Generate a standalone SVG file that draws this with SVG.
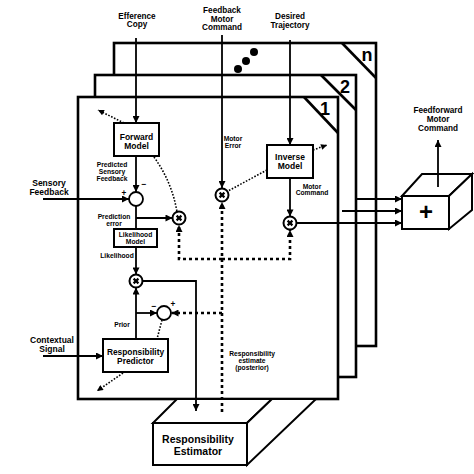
<svg xmlns="http://www.w3.org/2000/svg" width="474" height="474" viewBox="0 0 474 474">
<style>
text{font-family:"Liberation Sans",Arial,sans-serif;font-weight:bold;fill:#000;text-anchor:middle}
.frame{fill:#fff;stroke:#000;stroke-width:2.6}
.box{fill:#fff;stroke:#000;stroke-width:2}
.ln{fill:none;stroke:#000;stroke-width:1.8}
.dash{fill:none;stroke:#000;stroke-width:2.6;stroke-dasharray:3 3}
.dot{fill:none;stroke:#000;stroke-width:1.6;stroke-dasharray:1.6 1.6}
.t8{font-size:8.2px}
.t85{font-size:8.5px}
.t7{font-size:6.7px}
.big{font-size:18px}
.mult circle{fill:#fff;stroke:#000;stroke-width:2}
.mult path{stroke:#000;stroke-width:2.2;fill:none}
</style>
<defs>
<marker id="ah" viewBox="0 0 10 10" refX="10" refY="5" markerWidth="8" markerHeight="7" markerUnits="userSpaceOnUse" orient="auto"><path d="M0,0 L10,5 L0,10 z" fill="#000"/></marker>
<marker id="ahs" viewBox="0 0 10 10" refX="10" refY="5" markerWidth="7" markerHeight="6" markerUnits="userSpaceOnUse" orient="auto"><path d="M0,0 L10,5 L0,10 z" fill="#000"/></marker>
</defs>

<g id="frame-n">
<rect class="frame" x="114" y="43" width="262" height="303"/>
<path class="ln" style="stroke-width:2.6" d="M342,43 L376,78"/>
<text class="big" x="367" y="61">n</text>
<circle cx="238" cy="69" r="4"/><circle cx="246" cy="61" r="4"/><circle cx="254" cy="52" r="4"/>
</g>
<g id="frame-2">
<rect class="frame" x="95" y="75" width="261" height="302"/>
<path class="ln" style="stroke-width:2.6" d="M321,75 L356,110"/>
<text class="big" x="345" y="92.5">2</text>
</g>
<g id="frame-1">
<rect class="frame" x="78" y="97" width="260" height="302"/>
<path class="ln" style="stroke-width:2.6" d="M304,97 L338,133"/>
<text class="big" x="325" y="114.5">1</text>
</g>

<g id="responsibility-estimator">
<polygon class="box" points="153,423 177,399 272,399 247,423"/>
<polygon class="box" points="247,423 272,399 316,399 247,465"/>
<rect class="box" x="153" y="423" width="94" height="42"/>
<text style="font-size:10.5px" x="198" y="443">Responsibility</text>
<text style="font-size:10.5px" x="198" y="455">Estimator</text>
</g>

<g id="feedforward-sum">
<polygon class="box" points="402,196 422,174 472,174 449,196"/>
<polygon class="box" points="449,196 472,174 472,210 449,229"/>
<rect class="box" x="402" y="196" width="47" height="33"/>
<text style="font-size:24px" x="426" y="220">+</text>
</g>

<g id="connectors">
<path class="ln" d="M136,38 V123" marker-end="url(#ah)"/>
<path class="ln" d="M222,35 V188" marker-end="url(#ah)"/>
<path class="ln" d="M290,40 V145" marker-end="url(#ah)"/>
<path class="ln" d="M136,156 V192" marker-end="url(#ah)"/>
<path class="ln" d="M43,199 H129" marker-end="url(#ah)"/>
<path class="ln" d="M136,206 V229"/>
<path class="ln" d="M136,218 H172.5" marker-end="url(#ah)"/>
<path class="ln" d="M136,247 V274.5" marker-end="url(#ah)"/>
<path class="ln" d="M142.5,281 H196 V411" marker-end="url(#ah)"/>
<path class="ln" d="M136,339 V287.5" marker-end="url(#ah)"/>
<path class="ln" d="M136,313 H157" marker-end="url(#ah)"/>
<path class="ln" d="M43,356 H103" marker-end="url(#ah)"/>
<path class="ln" d="M290,178 V216.5" marker-end="url(#ah)"/>
<path class="ln" d="M296.5,223 H402" marker-end="url(#ah)"/>
<path class="ln" d="M342,211 H402" marker-end="url(#ah)"/>
<path class="ln" d="M357,199 H402" marker-end="url(#ah)"/>
<path class="ln" d="M438,187 V140" marker-end="url(#ah)"/>
<path class="dash" d="M222,412 V202" marker-end="url(#ah)"/>
<path class="dash" d="M222,259 H179 V225" marker-end="url(#ah)"/>
<path class="dash" d="M222,259 H290 V230" marker-end="url(#ah)"/>
<path class="dash" d="M222,313 H171.5" marker-end="url(#ah)"/>
<path class="dot" d="M154,157 Q172,182 177,212"/>
<path class="dot" d="M267,170 L228,191"/>
<path class="dot" d="M162,320 L157,339"/>
<path class="dot" d="M124,123 L98,110" marker-end="url(#ahs)"/>
<path class="dot" d="M313,150 L327,145" marker-end="url(#ahs)"/>
<path class="dot" d="M123,373 L97,391" marker-end="url(#ahs)"/>
</g>

<g id="forward-model">
<rect class="box" x="114" y="123" width="45" height="33"/>
<text class="t85" x="136.5" y="140">Forward</text>
<text class="t85" x="136.5" y="149">Model</text>
</g>
<g id="inverse-model">
<rect class="box" x="267" y="145" width="46" height="33"/>
<text class="t85" x="290" y="160">Inverse</text>
<text class="t85" x="290" y="169">Model</text>
</g>
<g id="likelihood-model">
<rect class="box" x="114" y="229" width="43" height="18"/>
<text class="t7" x="135.5" y="236.5">Likelihood</text>
<text class="t7" x="135.5" y="243.5">Model</text>
</g>
<g id="responsibility-predictor">
<rect class="box" x="103" y="339" width="65" height="33"/>
<text style="font-size:8.4px" x="135.5" y="355">Responsibility</text>
<text style="font-size:8.4px" x="135.5" y="363.5">Predictor</text>
</g>
<g id="sum-prediction">
<circle cx="136" cy="199" r="7" fill="#fff" stroke="#000" stroke-width="1.8"/>
<text class="t85" x="144" y="187">−</text>
<text class="t8" x="124" y="195.5">+</text>
</g>
<g id="sum-prior">
<circle cx="164" cy="313" r="7" fill="#fff" stroke="#000" stroke-width="1.8"/>
<text class="t85" x="154" y="309">−</text>
<text class="t8" x="173" y="306.5">+</text>
</g>
<g id="mult-prediction" class="mult"><circle cx="179" cy="218" r="6.5"/><path d="M176.6,215.6 L181.4,220.4 M181.4,215.6 L176.6,220.4"/></g>
<g id="mult-likelihood" class="mult"><circle cx="136" cy="281" r="6.5"/><path d="M133.6,278.6 L138.4,283.4 M138.4,278.6 L133.6,283.4"/></g>
<g id="mult-motor-error" class="mult"><circle cx="222" cy="195" r="6.5"/><path d="M219.6,192.6 L224.4,197.4 M224.4,192.6 L219.6,197.4"/></g>
<g id="mult-motor-command" class="mult"><circle cx="290" cy="223" r="6.5"/><path d="M287.6,220.6 L292.4,225.4 M292.4,220.6 L287.6,225.4"/></g>

<g id="labels">
<text class="t8" x="137" y="18.5">Efference</text>
<text class="t8" x="137" y="27">Copy</text>
<text class="t8" x="222" y="13">Feedback</text>
<text class="t8" x="222" y="21.5">Motor</text>
<text class="t8" x="222" y="30">Command</text>
<text class="t8" x="290" y="19">Desired</text>
<text class="t8" x="290" y="28">Trajectory</text>
<text class="t8" x="438" y="113">Feedforward</text>
<text class="t8" x="438" y="122">Motor</text>
<text class="t8" x="438" y="130.5">Command</text>
<text class="t85" x="49" y="186">Sensory</text>
<text class="t85" x="49" y="195">Feedback</text>
<text class="t85" x="52" y="343">Contextual</text>
<text class="t85" x="52" y="351.5">Signal</text>
<text class="t7" x="112" y="167">Predicted</text>
<text class="t7" x="112" y="174">Sensory</text>
<text class="t7" x="112" y="181">Feedback</text>
<text class="t7" x="114" y="218.5">Prediction</text>
<text class="t7" x="114" y="225.5">error</text>
<text class="t7" x="117" y="257.5">Likelihood</text>
<text class="t7" x="122" y="326.5">Prior</text>
<text class="t7" x="233" y="140.5">Motor</text>
<text class="t7" x="233" y="147.5">Error</text>
<text class="t7" x="312" y="188.5">Motor</text>
<text class="t7" x="312" y="195">Command</text>
<text class="t7" x="252" y="355.5">Responsibility</text>
<text class="t7" x="252" y="362.5">estimate</text>
<text class="t7" x="252" y="369.5">(posterior)</text>
</g>
</svg>
